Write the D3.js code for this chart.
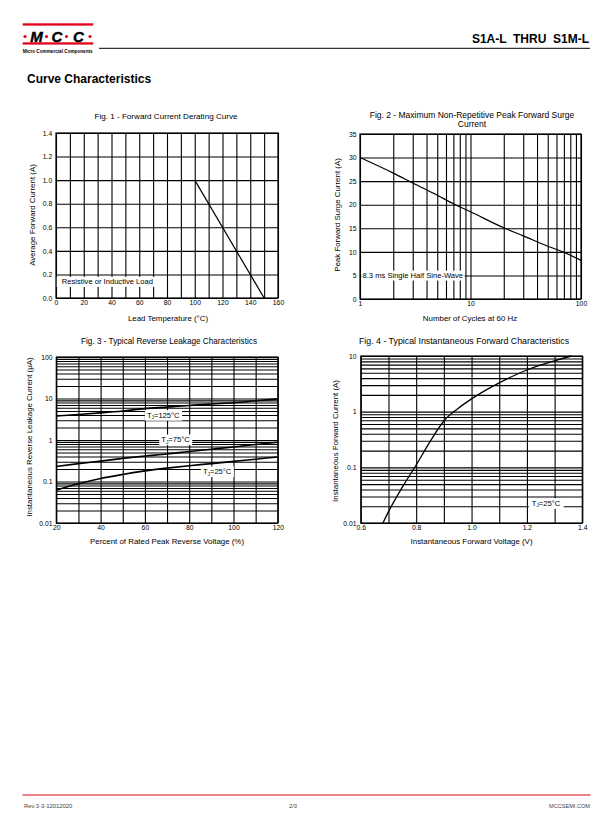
<!DOCTYPE html>
<html>
<head>
<meta charset="utf-8">
<script src="https://cdn.jsdelivr.net/npm/d3@7"></script>
<style>
  body { margin: 0; background: #fff; }
  svg { display: block; font-family: "Liberation Sans", Arial, Helvetica, sans-serif; }
</style>
</head>
<body>
<svg id="page" width="612" height="825"></svg>
<script>
// ---- Fig. 1 data ----
var fig1Temp = [100, 150];
var fig1Current = [1.0, 0.0];
var fig1XTicks = [0, 20, 40, 60, 80, 100, 120, 140, 160];
var fig1XLabels = ["0", "20", "40", "60", "80", "100", "120", "140", "160"];
var fig1YTicks = [0, 0.2, 0.4, 0.6, 0.8, 1.0, 1.2, 1.4];
var fig1YLabels = ["0.0", "0.2", "0.4", "0.6", "0.8", "1.0", "1.2", "1.4"];

// ---- Fig. 2 data ----
var fig2Cycles = [1, 2, 3, 5, 7, 10, 20, 30, 50, 70, 100];
var fig2Surge = [30, 26.7, 24.6, 22, 20.2, 18.5, 15.1, 13.4, 11.2, 9.9, 8.2];
var fig2XTicks = [1, 10, 100];
var fig2XLabels = ["1", "10", "100"];
var fig2YTicks = [0, 5, 10, 15, 20, 25, 30, 35];
var fig2YLabels = ["0", "5", "10", "15", "20", "25", "30", "35"];

// ---- Fig. 3 data ----
var fig3Volt = [20, 30, 40, 50, 60, 70, 80, 90, 100, 110, 120];
var fig3Leak125 = [3.8, 4.1, 4.5, 5.0, 5.7, 6.2, 6.8, 7.4, 7.9, 8.8, 9.8];
var fig3Leak75 = [0.23, 0.27, 0.31, 0.36, 0.41, 0.46, 0.53, 0.6, 0.68, 0.78, 0.88];
var fig3Leak25 = [0.062, 0.088, 0.118, 0.148, 0.18, 0.21, 0.24, 0.27, 0.305, 0.345, 0.39];
var fig3XTicks = [20, 40, 60, 80, 100, 120];
var fig3XLabels = ["20", "40", "60", "80", "100", "120"];
var fig3YTicks = [0.01, 0.1, 1, 10, 100];
var fig3YLabels = ["0.01", "0.1", "1", "10", "100"];

// ---- Fig. 4 data ----
var fig4Volt = [0.68, 0.7, 0.75, 0.8, 0.85, 0.9, 0.95, 1.0, 1.1, 1.2, 1.3, 1.36];
var fig4Current = [0.01, 0.016, 0.044, 0.11, 0.29, 0.68, 1.13, 1.7, 3.3, 5.6, 8.2, 10];
var fig4XTicks = [0.6, 0.8, 1.0, 1.2, 1.4];
var fig4XLabels = ["0.6", "0.8", "1.0", "1.2", "1.4"];
var fig4YTicks = [0.01, 0.1, 1, 10];
var fig4YLabels = ["0.01", "0.1", "1", "10"];

var svg = d3.select("#page");
var RED = "#e2001a";

// ---------- page header ----------
svg.append("rect").attr("x", 22.7).attr("y", 23.3).attr("width", 70.5).attr("height", 2.3).attr("fill", RED);
svg.append("rect").attr("x", 22.7).attr("y", 42.3).attr("width", 70.5).attr("height", 2.3).attr("fill", RED);
[25, 46.5, 66.5, 90].forEach(function(cx) {
  svg.append("circle").attr("cx", cx).attr("cy", 36.5).attr("r", 1.6).attr("fill", RED);
});
[["M", 36.5], ["C", 57], ["C", 78.5]].forEach(function(p) {
  svg.append("text").attr("x", p[1]).attr("y", 41.8).attr("text-anchor", "middle")
    .attr("font-size", 15).attr("font-weight", "bold").attr("font-style", "italic")
    .attr("stroke", "#000").attr("stroke-width", 0.4).text(p[0]);
});
svg.append("text").attr("x", 22.7).attr("y", 53.4).attr("font-size", 4.6).attr("font-weight", "bold")
  .attr("textLength", 70).attr("lengthAdjust", "spacingAndGlyphs").text("Micro Commercial Components");
svg.append("line").attr("x1", 99).attr("x2", 590).attr("y1", 48.3).attr("y2", 48.3)
  .attr("stroke", "#000").attr("stroke-width", 1);
svg.append("text").attr("x", 589).attr("y", 42.5).attr("text-anchor", "end")
  .attr("font-size", 12).attr("font-weight", "bold").style("white-space", "pre")
  .text("S1A-L  THRU  S1M-L");
svg.append("text").attr("x", 27).attr("y", 83).attr("font-size", 12).attr("font-weight", "bold")
  .text("Curve Characteristics");

// ---------- footer ----------
svg.append("line").attr("x1", 22.5).attr("x2", 590.5).attr("y1", 795).attr("y2", 795)
  .attr("stroke", RED).attr("stroke-width", 1.2);
svg.append("text").attr("x", 24).attr("y", 807.5).attr("font-size", 5.9).attr("fill", "#444").text("Rev.3-3-12012020");
svg.append("text").attr("x", 293).attr("y", 807.5).attr("font-size", 5.9).attr("fill", "#444")
  .attr("text-anchor", "middle").text("2/3");
svg.append("text").attr("x", 590).attr("y", 807.5).attr("font-size", 5.6).attr("fill", "#444")
  .attr("text-anchor", "end").text("MCCSEMI.COM");

// ---------- panel helper ----------
function panel(o) {
  var w = o.x.range()[1], h = o.y.range()[0];
  var g = svg.append("g").attr("transform", "translate(" + o.left + "," + o.top + ")");

  g.append("g").attr("class", "grid")
    .call(d3.axisTop(o.x).tickValues(o.xGrid).tickSize(-h).tickFormat(""));
  g.append("g").attr("class", "grid")
    .call(d3.axisLeft(o.y).tickValues(o.yGrid).tickSize(-w).tickFormat(""));
  g.selectAll(".grid .domain").remove();
  g.selectAll(".grid line").attr("stroke", "#000").attr("stroke-width", 1.1);

  var xa = g.append("g").attr("transform", "translate(0," + h + ")")
    .call(d3.axisBottom(o.x).tickValues(o.xTicks).tickSize(0).tickPadding(o.xPad)
      .tickFormat(function(d) { return o.xLabels[o.xTicks.indexOf(d)]; }));
  var ya = g.append("g")
    .call(d3.axisLeft(o.y).tickValues(o.yTicks).tickSize(0).tickPadding(o.yPad)
      .tickFormat(function(d) { return o.yLabels[o.yTicks.indexOf(d)]; }));
  [xa, ya].forEach(function(a) {
    a.select(".domain").remove();
    a.attr("font-family", null).attr("font-size", 6.8);
    a.selectAll("text").attr("fill", "#000");
  });

  o.curves.forEach(function(c) {
    var pts = c.xs.map(function(v, i) { return [v, c.ys[i]]; });
    g.append("path").datum(pts)
      .attr("fill", "none").attr("stroke", "#000").attr("stroke-width", c.width || 1.3)
      .attr("d", d3.line().x(function(d) { return o.x(d[0]); }).y(function(d) { return o.y(d[1]); })
        .curve(c.straight ? d3.curveLinear : d3.curveMonotoneX));
  });

  (o.notes || []).forEach(function(n) {
    var t = g.append("text").attr("x", n.x).attr("y", n.y).attr("font-size", 7.6);
    if (n.sub) {
      t.append("tspan").text("T");
      t.append("tspan").attr("font-size", 4.8).attr("dy", 1.6).text("J");
      t.append("tspan").attr("dy", -1.6).text(n.text);
    } else {
      t.text(n.text);
    }
    var b = t.node().getBBox();
    g.insert("rect", function() { return t.node(); })
      .attr("x", b.x - (n.padL || 2)).attr("y", b.y - 0.5)
      .attr("width", b.width + (n.padL || 2) + (n.padR || 2)).attr("height", b.height + 1)
      .attr("fill", "#fff");
  });

  g.append("rect").attr("width", w).attr("height", h)
    .attr("fill", "none").attr("stroke", "#000").attr("stroke-width", 1.2);

  // titles
  o.title.forEach(function(line, i) {
    svg.append("text").attr("x", o.titleX).attr("y", o.titleY + i * 9.8)
      .attr("text-anchor", "middle").attr("font-size", o.titleSize).text(line);
  });
  svg.append("text").attr("x", o.left + w / 2 + (o.xLabelDx || 0)).attr("y", o.top + h + o.xLabelDy)
    .attr("text-anchor", "middle").attr("font-size", 7.9).text(o.xLabel);
  svg.append("text")
    .attr("transform", "translate(" + o.yLabelX + "," + o.yLabelY + ") rotate(-90)")
    .attr("text-anchor", "middle").attr("font-size", 7.9).text(o.yLabel);
}

// ---------- Fig. 1 ----------
var x1 = d3.scaleLinear().domain([0, 160]).range([0, 222]);
var y1 = d3.scaleLinear().domain([0, 1.4]).range([165, 0]);
panel({
  left: 56, top: 133, x: x1, y: y1,
  xGrid: d3.range(0, 161, 10), yGrid: fig1YTicks,
  xTicks: fig1XTicks, xLabels: fig1XLabels, yTicks: fig1YTicks, yLabels: fig1YLabels,
  xPad: 2.6, yPad: 3.8,
  curves: [{ xs: fig1Temp, ys: fig1Current, straight: true, width: 1.2 }],
  notes: [{ x: 5.8, y: 151.4, text: "Resistive or Inductive Load", padL: 5.5, padR: 2.5 }],
  title: ["Fig. 1 - Forward Current Derating Curve"], titleX: 166, titleY: 119, titleSize: 8.1,
  xLabel: "Lead Temperature (\u00B0C)", xLabelDy: 22.5, xLabelDx: 1,
  yLabel: "Average Forward Current (A)", yLabelX: 34.5, yLabelY: 215
});

// ---------- Fig. 2 ----------
var x2 = d3.scaleLog().domain([1, 100]).range([0, 221]);
var y2 = d3.scaleLinear().domain([0, 35]).range([165, 0]);
panel({
  left: 360, top: 134, x: x2, y: y2,
  xGrid: x2.ticks(), yGrid: fig2YTicks,
  xTicks: fig2XTicks, xLabels: fig2XLabels, yTicks: fig2YTicks, yLabels: fig2YLabels,
  xPad: 2.6, yPad: 3.5,
  curves: [{ xs: fig2Cycles, ys: fig2Surge, width: 1.2 }],
  notes: [{ x: 2.5, y: 144.1, text: "8.3 ms Single Half Sine-Wave", padL: 1, padR: 1.5 }],
  title: ["Fig. 2 - Maximum Non-Repetitive Peak Forward Surge", "Current"], titleX: 472, titleY: 117.5, titleSize: 8.5,
  xLabel: "Number of Cycles at 60 Hz", xLabelDy: 21.5, xLabelDx: -0.5,
  yLabel: "Peak Forward Surge Current (A)", yLabelX: 339.5, yLabelY: 215
});

// ---------- Fig. 3 ----------
var x3 = d3.scaleLinear().domain([20, 120]).range([0, 221.5]);
var y3 = d3.scaleLog().domain([0.01, 100]).range([166, 0]);
panel({
  left: 56.3, top: 357, x: x3, y: y3,
  xGrid: d3.range(20, 121, 10), yGrid: y3.ticks(),
  xTicks: fig3XTicks, xLabels: fig3XLabels, yTicks: fig3YTicks, yLabels: fig3YLabels,
  xPad: 1.8, yPad: 3.8,
  curves: [
    { xs: fig3Volt, ys: fig3Leak125, width: 1.6 },
    { xs: fig3Volt, ys: fig3Leak75, width: 1.6 },
    { xs: fig3Volt, ys: fig3Leak25, width: 1.6 }
  ],
  notes: [
    { x: 90.6, y: 60.6, text: "=125\u00B0C", sub: true },
    { x: 105, y: 85, text: "=75\u00B0C", sub: true },
    { x: 146.6, y: 117, text: "=25\u00B0C", sub: true }
  ],
  title: ["Fig. 3 - Typical Reverse Leakage Characteristics"], titleX: 169, titleY: 343.5, titleSize: 8.2,
  xLabel: "Percent of Rated Peak Reverse Voltage (%)", xLabelDy: 20.5, xLabelDx: 0,
  yLabel: "Instantaneous Reverse Leakage Current (\u03BCA)", yLabelX: 32, yLabelY: 437
});

// ---------- Fig. 4 ----------
var x4 = d3.scaleLinear().domain([0.6, 1.4]).range([0, 221.5]);
var y4 = d3.scaleLog().domain([0.01, 10]).range([167, 0]);
panel({
  left: 360.8, top: 356, x: x4, y: y4,
  xGrid: d3.range(6, 15).map(function(k) { return k / 10; }), yGrid: y4.ticks(),
  xTicks: fig4XTicks, xLabels: fig4XLabels, yTicks: fig4YTicks, yLabels: fig4YLabels,
  xPad: 1.8, yPad: 4.3,
  curves: [{ xs: fig4Volt, ys: fig4Current, width: 1.3 }],
  notes: [{ x: 171, y: 149.7, text: "=25\u00B0C", sub: true, padL: 3, padR: 3 }],
  title: ["Fig. 4 - Typical Instantaneous Forward Characteristics"], titleX: 464, titleY: 343.5, titleSize: 8.8,
  xLabel: "Instantaneous Forward Voltage (V)", xLabelDy: 20.5, xLabelDx: 0,
  yLabel: "Instantaneous Forward Current (A)", yLabelX: 337.7, yLabelY: 441
});
</script>
</body>
</html>
